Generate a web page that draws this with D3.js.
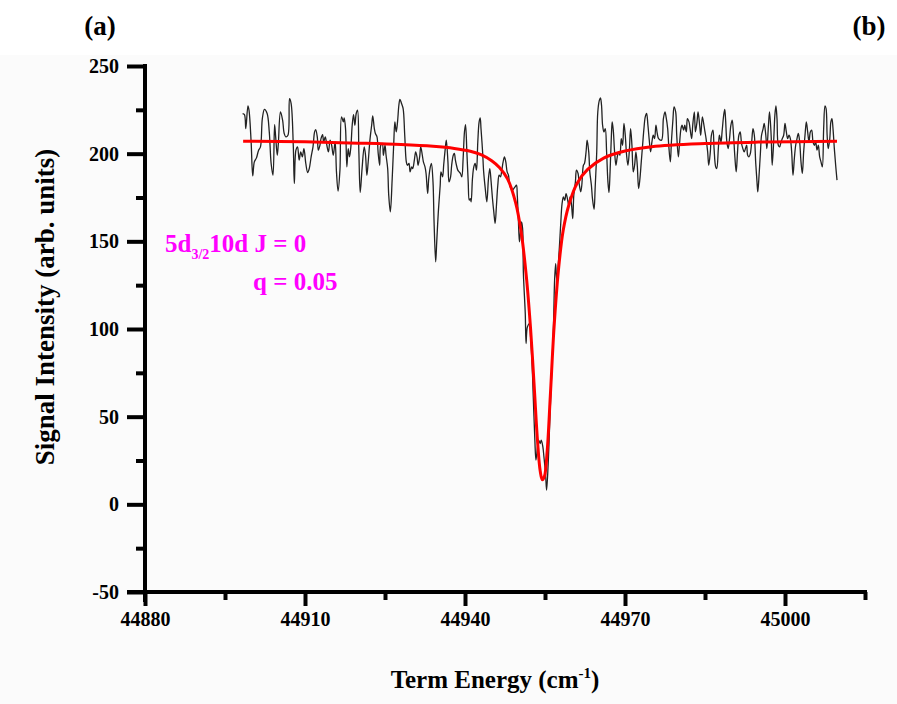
<!DOCTYPE html>
<html>
<head>
<meta charset="utf-8">
<script src="https://cdn.jsdelivr.net/npm/d3@7"></script>
<style>
  html, body { margin: 0; padding: 0; background: #ffffff; }
  svg { display: block; }
  text { font-family: "Liberation Serif", "Times New Roman", serif; font-weight: bold; }
</style>
</head>
<body>
<svg id="chart" width="897" height="704"></svg>
<script>
// ---- Data ----
const xTickValues = [44880, 44910, 44940, 44970, 45000];
const xMinorTickValues = [44895, 44925, 44955, 44985, 45015];
const yTickValues = [-50, 0, 50, 100, 150, 200, 250];
const yMinorTickValues = [-25, 25, 75, 125, 175, 225];

// measured signal (noisy trace)
const signalX = [
  44898.3, 44898.65, 44898.9, 44899.3, 44899.5, 44899.9, 44900.2, 44900.5, 44900.9, 44901.3,
  44901.65, 44902.0, 44902.4, 44902.9, 44903.3, 44903.65, 44904.0, 44904.3, 44904.5, 44904.8,
  44905.0, 44905.4, 44905.8, 44906.1, 44906.4, 44906.8, 44907.1, 44907.4, 44907.8, 44908.0,
  44908.3, 44908.6, 44908.9, 44909.2, 44909.5, 44909.8, 44910.15, 44910.5, 44910.8, 44911.15,
  44911.5, 44911.8, 44912.0, 44912.3, 44912.5, 44912.8, 44913.0, 44913.3, 44913.5, 44913.8,
  44914.1, 44914.4, 44914.7, 44915.0, 44915.3, 44915.65, 44915.9, 44916.2, 44916.55,
  44916.85, 44917.2, 44917.35, 44917.6, 44917.85, 44918.1, 44918.35, 44918.6, 44918.85, 44919.1,
  44919.35, 44919.6, 44919.85, 44920.1, 44920.35, 44920.7, 44921.1, 44921.35, 44921.6, 44921.85,
  44922.2, 44922.5, 44922.7, 44923.0, 44923.2, 44923.5, 44923.7, 44924.0, 44924.2, 44924.5,
  44924.7, 44925.0, 44925.2, 44925.5, 44925.7, 44926.0, 44926.35, 44926.65, 44926.85, 44927.1,
  44927.35, 44927.6, 44927.8, 44928.1, 44928.4, 44928.7, 44929.0, 44929.2, 44929.5, 44929.7,
  44930.0, 44930.2, 44930.5, 44930.75, 44931.0, 44931.2, 44931.5, 44931.7, 44932.0, 44932.2,
  44932.5, 44932.7, 44933.0, 44933.2, 44933.5, 44933.7, 44934.0, 44934.2, 44934.5, 44934.7,
  44935.0, 44935.35, 44935.5, 44935.8, 44936.0, 44936.3, 44936.5, 44936.8, 44937.0, 44937.3,
  44937.5, 44937.8, 44938.0, 44938.2, 44938.4, 44938.65, 44938.9, 44939.15, 44939.4, 44939.65,
  44939.9, 44940.1, 44940.35, 44940.6, 44940.8, 44941.0, 44941.15, 44941.4, 44941.65, 44941.9,
  44942.15, 44942.4, 44942.65, 44942.85, 44943.0, 44943.3, 44943.5, 44943.8, 44944.1, 44944.4,
  44944.65, 44944.9, 44945.15, 44945.4, 44945.65, 44945.9, 44946.15, 44946.4, 44946.65, 44946.9,
  44947.15, 44947.4, 44947.65, 44947.9, 44948.15, 44948.4, 44948.65, 44948.9, 44949.15, 44949.4,
  44949.65, 44949.8, 44950.0, 44950.2, 44950.4, 44950.6, 44950.8, 44950.95, 44951.3, 44951.45,
  44951.7, 44952.1, 44952.3, 44952.6, 44952.8, 44953.1, 44953.3, 44953.6, 44953.8, 44954.1,
  44954.3, 44954.6, 44954.8, 44955.1, 44955.3, 44955.6, 44955.95, 44956.3, 44956.6, 44956.8,
  44957.0, 44957.2, 44957.45, 44957.7, 44957.95, 44958.2, 44958.45, 44958.7, 44958.95, 44959.2,
  44959.45, 44959.7, 44959.95, 44960.2, 44960.4, 44960.7, 44960.9, 44961.2, 44961.4, 44961.7,
  44961.9, 44962.2, 44962.4, 44962.7, 44962.9, 44963.2, 44963.4, 44963.7, 44963.9, 44964.2,
  44964.4, 44964.7, 44964.9, 44965.2, 44965.4, 44965.6, 44965.8, 44966.05, 44966.3, 44966.55,
  44966.8, 44967.0, 44967.2, 44967.45, 44967.6, 44967.8, 44968.05, 44968.3, 44968.55, 44968.8,
  44969.05, 44969.3, 44969.55, 44969.8, 44970.05, 44970.3, 44970.55, 44970.8, 44971.05, 44971.3,
  44971.55, 44971.8, 44972.05, 44972.3, 44972.55, 44972.8, 44973.05, 44973.3, 44973.55, 44973.8,
  44974.05, 44974.3, 44974.55, 44974.8, 44975.05, 44975.3, 44975.55, 44975.8, 44976.05, 44976.3,
  44976.85, 44977.2, 44977.5, 44977.7, 44978.0, 44978.2, 44978.5, 44978.7, 44979.0, 44979.2,
  44979.5, 44979.7, 44980.0, 44980.2, 44980.5, 44980.7, 44981.0, 44981.2, 44981.5, 44981.7,
  44982.0, 44982.2, 44982.5, 44982.7, 44983.0, 44983.2, 44983.5, 44983.7, 44984.0, 44984.2,
  44984.5, 44984.7, 44985.0, 44985.2, 44985.5, 44985.7, 44986.0, 44986.2, 44986.5, 44986.7,
  44987.0, 44987.2, 44987.5, 44987.7, 44988.0, 44988.2, 44988.5, 44988.7, 44988.85, 44989.1,
  44989.35, 44989.6, 44989.85, 44990.1, 44990.35, 44990.6, 44990.85, 44991.1, 44991.35, 44991.6,
  44991.85, 44992.1, 44992.35, 44992.8, 44993.0, 44993.25, 44993.5, 44993.75, 44994.0, 44994.25,
  44994.5, 44994.75, 44994.9, 44995.1, 44995.4, 44995.6, 44995.9, 44996.1, 44996.4, 44996.6,
  44996.9, 44997.1, 44997.4, 44997.6, 44997.9, 44998.1, 44998.3, 44998.5, 44998.75, 44999.0,
  44999.25, 44999.5, 44999.75, 45000.0, 45000.25, 45000.5, 45000.75, 45001.0, 45001.25, 45001.5,
  45001.75, 45002.0, 45002.25, 45002.5, 45002.75, 45003.0, 45003.25, 45003.5, 45003.75, 45004.0,
  45004.25, 45004.5, 45004.75, 45005.0, 45005.25, 45005.5, 45005.75, 45006.0, 45006.25, 45006.5,
  45006.75, 45007.0, 45007.25, 45007.5, 45007.7, 45007.9, 45008.1, 45008.4, 45008.6, 45008.8,
  45009.0, 45009.25, 45009.5, 45009.75
];
const signalY = [
  222.9, 222.3, 214.3, 227.2, 224.8, 206.7, 187.3, 195.3, 197.6, 202.0,
  203.9, 220.0, 225.3, 222.9, 212.4, 194.4, 187.7, 216.6, 209.6, 199.1,
  205.8, 223.8, 219.1, 211.5, 209.6, 210.5, 231.4, 228.6, 204.8, 183.0,
  202.0, 203.9, 196.3, 201.0, 198.2, 202.9, 194.4, 189.2, 191.5, 198.2,
  203.9, 212.4, 213.7, 209.6, 202.0, 204.8, 208.6, 210.9, 206.7, 209.6,
  204.8, 201.0, 207.7, 204.8, 199.1, 206.7, 189.6, 178.6, 190.6,
  221.0, 218.1, 220.4, 214.3, 192.5, 202.9, 198.2, 203.9, 216.2, 222.3,
  216.2, 222.9, 224.8, 201.0, 177.8, 191.5, 203.9, 199.1, 187.7, 195.3,
  208.6, 216.2, 221.5, 214.3, 211.5, 209.6, 201.0, 193.4, 204.8, 205.8,
  199.1, 204.8, 199.1, 191.5, 176.3, 166.8, 185.8, 206.7, 218.1, 212.4,
  218.1, 227.6, 231.0, 228.6, 225.7, 210.5, 195.3, 193.4, 194.4, 189.6,
  192.5, 191.5, 196.3, 201.0, 198.2, 193.4, 198.2, 203.9, 199.1, 195.3,
  192.5, 188.7, 177.3, 185.8, 192.5, 194.4, 183.9, 161.1, 138.3, 149.7,
  166.8, 182.0, 189.6, 186.8, 193.4, 202.9, 207.7, 195.3, 183.9, 186.8,
  193.4, 199.1, 200.1, 196.3, 193.4, 190.6, 189.6, 188.7, 186.8, 197.2,
  212.4, 216.6, 201.0, 183.9, 173.5, 174.4, 172.5, 185.8, 192.5, 194.4,
  190.6, 206.7, 218.1, 220.4, 214.3, 201.0, 189.6, 180.1, 172.5, 185.8,
  191.5, 183.9, 174.4, 166.8, 160.2, 170.6, 182.0, 187.7, 186.8, 190.6,
  195.3, 198.2, 195.3, 189.6, 187.7, 182.0, 180.1, 179.2, 180.1, 181.1,
  182.0, 176.3, 163.0, 149.7, 155.4, 161.1, 157.3, 131.6, 108.8, 91.7,
  101.2, 103.1, 95.5, 78.4, 61.3, 36.6, 25.2, 32.8, 36.6, 34.7,
  36.6, 32.8, 27.1, 17.6, 8.1, 23.3, 51.8, 78.4, 103.1, 127.8,
  137.3, 127.8, 135.4, 146.8, 160.1, 171.5, 175.3, 173.4, 177.2, 174.4,
  170.6, 175.3, 171.5, 163.0, 176.3, 183.9, 190.6, 188.7, 183.0, 178.2,
  182.0, 193.4, 194.4, 201.0, 207.7, 201.0, 189.6, 182.0, 174.4, 168.3,
  180.1, 201.0, 223.8, 230.5, 231.8, 227.6, 216.2, 212.4, 214.3, 201.0,
  183.9, 177.8, 189.6, 210.5, 218.1, 213.4, 201.0, 193.4, 198.2, 201.0,
  199.1, 208.6, 204.8, 217.2, 210.5, 199.1, 193.4, 201.0, 214.3, 204.8,
  189.6, 193.4, 201.0, 193.4, 180.1, 185.8, 195.3, 204.8, 214.3, 221.0,
  222.9, 216.2, 207.7, 201.0, 206.7, 210.5, 208.6, 216.2, 211.5, 208.6,
  207.7, 220.0, 223.8, 221.0, 214.3, 204.8, 195.3, 206.7, 220.0, 226.7,
  223.8, 210.5, 198.2, 204.8, 214.3, 216.2, 213.4, 216.2, 212.4, 220.0,
  218.1, 214.3, 208.6, 216.2, 223.8, 212.4, 218.1, 223.8, 216.2, 210.5,
  221.0, 218.1, 212.4, 208.6, 201.0, 193.4, 201.0, 210.5, 213.4, 202.9,
  192.5, 191.5, 202.9, 210.5, 206.7, 212.4, 221.9, 225.3, 220.0, 206.7,
  202.9, 208.6, 216.2, 219.1, 210.5, 198.2, 189.6, 201.0, 210.5, 212.4,
  205.8, 202.9, 201.0, 204.8, 199.1, 198.2, 200.1, 206.7, 214.3, 210.5,
  195.3, 183.9, 178.2, 185.8, 201.0, 210.5, 214.3, 217.2, 210.5, 202.9,
  216.2, 223.8, 210.5, 193.4, 208.6, 221.9, 227.2, 220.0, 204.8, 203.9,
  206.7, 208.6, 210.5, 217.2, 212.4, 208.6, 210.5, 208.6, 201.0, 187.7,
  197.2, 204.8, 208.6, 211.5, 206.7, 195.3, 188.7, 201.0, 210.5, 218.1,
  212.4, 206.7, 212.4, 213.4, 206.7, 204.8, 206.7, 202.0, 204.8, 198.2,
  195.3, 192.5, 214.3, 227.2, 225.7, 210.5, 202.9, 208.6, 218.1, 220.0,
  214.3, 202.9, 193.4, 184.9
];

// fitted (red) curve
const fitX = [
  44898.4, 44910, 44920, 44928, 44934, 44938, 44941, 44943, 44945, 44946.5,
  44948, 44949.5, 44950.5, 44951.5, 44952.3, 44953.0, 44953.6, 44954.1, 44954.5, 44954.9,
  44955.4, 44956.0, 44956.7, 44957.5, 44958.4, 44959.5, 44961, 44963, 44966, 44970,
  44975, 44985, 44995, 45009.75
];
const fitY = [
  207.1, 206.8, 206.0, 205.2, 204.2, 203.0, 201.4, 199.5, 196.0, 192.0,
  185.5, 172.0, 156.0, 130.0, 100.0, 66.0, 36.0, 19.0, 14.0, 16.0,
  30.0, 62.0, 101.0, 133.0, 156.0, 171.0, 183.0, 191.0, 197.5, 201.5,
  204.0, 205.8, 206.6, 207.1
];

// ---- Drawing ----
const svg = d3.select("#chart");
const W = 897, H = 704;

svg.append("rect").attr("x", 0).attr("y", 0).attr("width", W).attr("height", H).attr("fill", "#ffffff");
svg.append("rect").attr("x", 0).attr("y", 55).attr("width", W).attr("height", H - 55).attr("fill", "#fbfbfb");

const x = d3.scaleLinear().domain([44880, 45015]).range([145, 865]);
const y = d3.scaleLinear().domain([-50, 250]).range([592, 66]);

const sig = signalX.map((v, i) => [v, signalY[i]]);
const fit = fitX.map((v, i) => [v, fitY[i]]);

svg.append("path")
  .datum(sig)
  .attr("fill", "none")
  .attr("stroke", "#222222")
  .attr("stroke-width", 1.3)
  .attr("stroke-linejoin", "round")
  .attr("d", d3.line().x(d => x(d[0])).y(d => y(d[1])).curve(d3.curveCatmullRom.alpha(0.5)));

svg.append("path")
  .datum(fit)
  .attr("fill", "none")
  .attr("stroke", "#ff0000")
  .attr("stroke-width", 3)
  .attr("d", d3.line().x(d => x(d[0])).y(d => y(d[1])).curve(d3.curveCatmullRom.alpha(0.5)));

// axes
const axisStroke = 4;
const tickFmt = d => String(d).replace("\u2212", "-");
function styleAxis(g) {
  g.selectAll("path.domain").attr("stroke", "#000").attr("stroke-width", axisStroke);
  g.selectAll(".tick line").attr("stroke", "#000").attr("stroke-width", axisStroke);
  g.selectAll(".tick text")
    .attr("fill", "#000")
    .style("font-family", '"Liberation Serif", "Times New Roman", serif')
    .style("font-weight", "bold")
    .style("font-size", "20px");
}

// y minor
svg.append("g")
  .attr("transform", `translate(${x(44880)},0)`)
  .call(d3.axisLeft(y).tickValues(yMinorTickValues).tickSize(9).tickFormat(""))
  .call(g => g.select("path.domain").remove())
  .call(styleAxis);

// y major
const gy = svg.append("g")
  .attr("transform", `translate(${x(44880)},0)`)
  .call(d3.axisLeft(y).tickValues(yTickValues).tickSize(18).tickSizeOuter(0).tickPadding(8).tickFormat(tickFmt))
  .call(styleAxis);
gy.select("path.domain").attr("d", `M0,${y(250) - 2}V${y(-50) + 10}`);

// x minor
svg.append("g")
  .attr("transform", `translate(0,${y(-50)})`)
  .call(d3.axisBottom(x).tickValues(xMinorTickValues).tickSize(8).tickFormat(""))
  .call(g => g.select("path.domain").remove())
  .call(styleAxis);

// x major
const gx = svg.append("g")
  .attr("transform", `translate(0,${y(-50)})`)
  .call(d3.axisBottom(x).tickValues(xTickValues).tickSize(14).tickSizeOuter(0).tickPadding(6).tickFormat(tickFmt))
  .call(styleAxis);
gx.select("path.domain").attr("d", `M${x(44880) - 18},0H${x(45015) + 2}`);

// axis titles
svg.append("text")
  .attr("transform", `translate(54,307) rotate(-90)`)
  .attr("text-anchor", "middle")
  .style("font-size", "27px")
  .attr("fill", "#000")
  .text("Signal Intensity (arb. units)");

const xt = svg.append("text")
  .attr("x", 495)
  .attr("y", 688)
  .attr("text-anchor", "middle")
  .style("font-size", "25px")
  .attr("fill", "#000");
xt.append("tspan").text("Term Energy (cm");
xt.append("tspan").attr("dy", -10).style("font-size", "15px").text("-1");
xt.append("tspan").attr("dy", 10).text(")");

// annotation
const ann = svg.append("text")
  .attr("x", 165)
  .attr("y", 252)
  .attr("fill", "#ff00ff")
  .style("font-size", "25px");
ann.append("tspan").text("5d");
ann.append("tspan").attr("dy", 7).style("font-size", "14px").text("3/2");
ann.append("tspan").attr("dy", -7).text("10d J = 0");

svg.append("text")
  .attr("x", 253)
  .attr("y", 290)
  .attr("fill", "#ff00ff")
  .style("font-size", "25px")
  .text("q = 0.05");

// panel labels
svg.append("text").attr("x", 100).attr("y", 35).attr("text-anchor", "middle")
  .style("font-size", "27px").attr("fill", "#000").text("(a)");
svg.append("text").attr("x", 869).attr("y", 35).attr("text-anchor", "middle")
  .style("font-size", "27px").attr("fill", "#000").text("(b)");
</script>
</body>
</html>
